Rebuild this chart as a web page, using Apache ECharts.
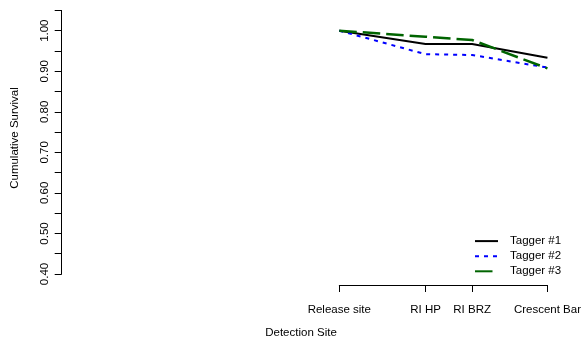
<!DOCTYPE html>
<html>
<head>
<meta charset="utf-8">
<script src="https://cdn.jsdelivr.net/npm/echarts@6/dist/echarts.min.js"></script>
<style>html,body{margin:0;padding:0;background:#fff;}#c{width:584px;height:345px;}</style>
</head>
<body>
<div id="c"></div>
<script>
var sites = ['Release site', 'RI HP', 'RI BRZ', 'Crescent Bar'];
var siteX = [0, 87, 134, 210];
var tagger1 = [1.00, 0.967, 0.967, 0.933];
var tagger2 = [1.00, 0.942, 0.940, 0.909];
var tagger3 = [1.00, 0.985, 0.977, 0.907];
var seriesNames = ['Tagger #1', 'Tagger #2', 'Tagger #3'];

var FONT = 'Liberation Sans, Arial, Helvetica, sans-serif';
var FS = 11.5;
function pts(v) { return siteX.map(function (x, i) { return [x, v[i]]; }); }

var chart = echarts.init(document.getElementById('c'), null, {renderer: 'canvas'});
chart.setOption({
  animation: false,
  backgroundColor: '#fff',
  grid: {left: 339.3, right: 34.7, top: 10.4, bottom: 71},
  xAxis: {
    type: 'value', min: siteX[0], max: siteX[siteX.length - 1],
    position: 'bottom', offset: 11,
    axisLine: {show: true, onZero: false, lineStyle: {color: '#000', width: 1}},
    axisTick: {show: true, length: 7, customValues: siteX, lineStyle: {color: '#000'}},
    axisLabel: {
      show: true, margin: 18.5, customValues: siteX,
      fontSize: FS, fontFamily: FONT, color: '#000',
      formatter: function (v) { var i = siteX.indexOf(v); return i >= 0 ? sites[i] : ''; }
    },
    splitLine: {show: false}
  },
  yAxis: {
    type: 'value', min: 0.40, max: 1.05, interval: 0.05,
    position: 'left', offset: 277.6,
    axisLine: {show: true, onZero: false, lineStyle: {color: '#000', width: 1}},
    axisTick: {show: true, length: 7, lineStyle: {color: '#000'}},
    axisLabel: {
      rotate: 90, margin: 11, fontSize: FS, fontFamily: FONT, color: '#000',
      formatter: function (v) {
        var t = v * 10;
        return Math.abs(t - Math.round(t)) < 1e-6 && v <= 1.0001 ? v.toFixed(2) : '';
      }
    },
    splitLine: {show: false}
  },
  legend: {
    orient: 'vertical', left: 474, top: 235.1, padding: 0,
    itemWidth: 23, itemHeight: 10, itemGap: 3.1,
    itemStyle: {opacity: 0, borderWidth: 0},
    textStyle: {fontSize: FS, fontFamily: FONT, color: '#000', padding: [0, 0, 0, 7]},
    data: seriesNames
  },
  graphic: [
    {type: 'text', x: 15, y: 138, rotation: Math.PI / 2,
     style: {text: 'Cumulative Survival', fontSize: FS, fontFamily: FONT, fill: '#000', align: 'center', verticalAlign: 'middle'}},
    {type: 'text', x: 301, y: 333,
     style: {text: 'Detection Site', fontSize: FS, fontFamily: FONT, fill: '#000', align: 'center', verticalAlign: 'middle'}}
  ],
  series: [
    {name: seriesNames[0], type: 'line', data: pts(tagger1), symbol: 'none',
     lineStyle: {color: '#000000', width: 2, type: 'solid'}, itemStyle: {color: '#000000'}},
    {name: seriesNames[1], type: 'line', data: pts(tagger2), symbol: 'none',
     lineStyle: {color: '#0000ff', width: 2, type: [4, 5]}, itemStyle: {color: '#0000ff'}},
    {name: seriesNames[2], type: 'line', data: pts(tagger3), symbol: 'none',
     lineStyle: {color: '#006400', width: 2.5, type: [17.5, 6]}, itemStyle: {color: '#006400'}}
  ]
});
</script>
</body>
</html>
